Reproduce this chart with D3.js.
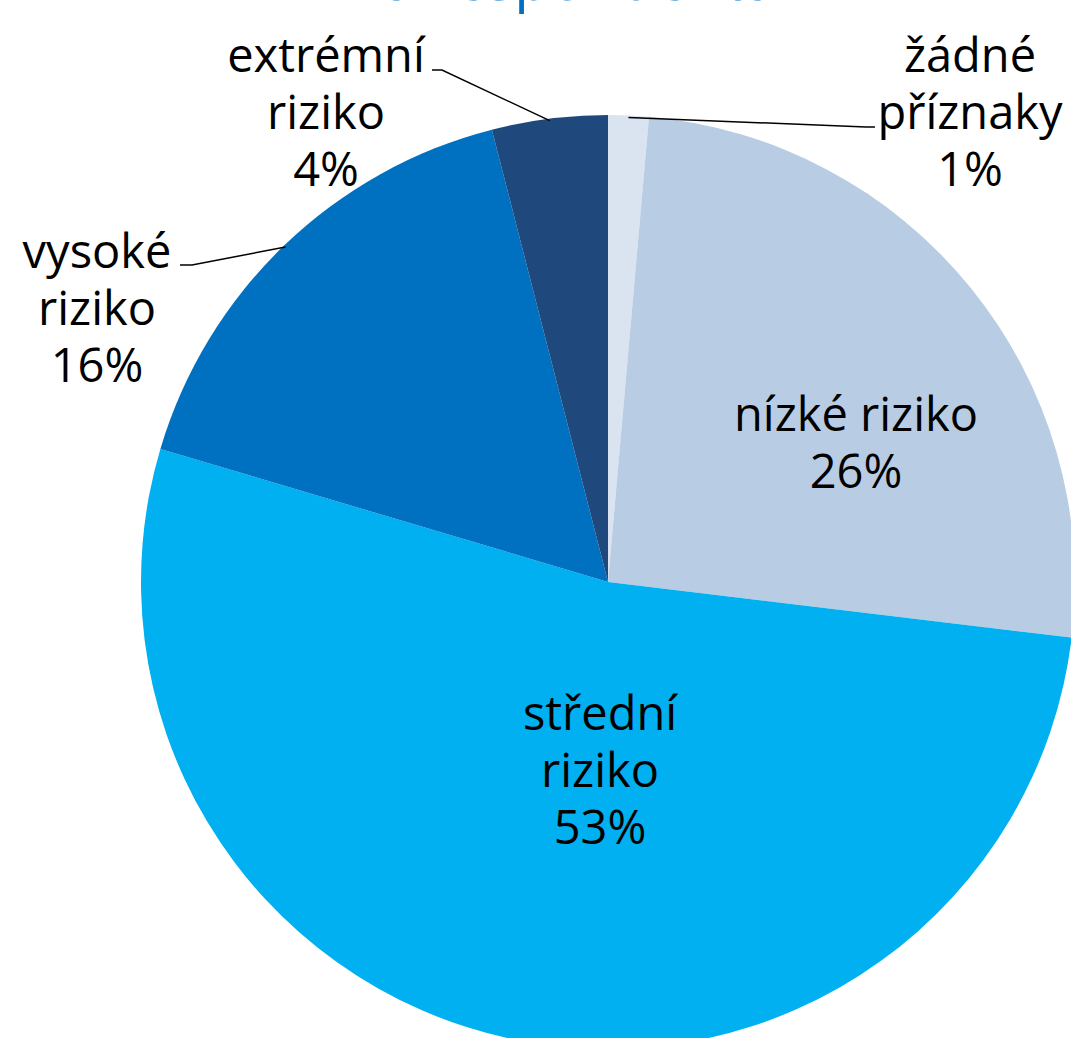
<!DOCTYPE html>
<html>
<head>
<meta charset="utf-8">
<script src="https://cdn.jsdelivr.net/npm/d3@7"></script>
<style>
  body { margin: 0; background: #fff; }
  svg { display: block; }
  text { font-family: "Open Sans", sans-serif; }
</style>
</head>
<body>
<div id="chart"></div>
<script>
// Data
const categories = ['žádné příznaky', 'nízké riziko', 'střední riziko', 'vysoké riziko', 'extrémní riziko']
const values = [1.4, 25.5, 52.7, 16.4, 4.0]
const labelLines = [
  ['žádné', 'příznaky', '1%'],
  ['nízké riziko', '26%'],
  ['střední', 'riziko', '53%'],
  ['vysoké', 'riziko', '16%'],
  ['extrémní', 'riziko', '4%']
]
const colors = ['#dae3f0', '#b8cce4', '#00b0f0', '#0070c0', '#1f497d']

// Dimensions
const dimensions = {
  width: 1071,
  height: 1038,
  cx: 608,
  cy: 582,
  radius: 467,
  lineHeight: 57
}

// label anchors (first line baseline centre) and leader line elbows
const labelPos = [
  { x: 970, y: 72, elbow: [[875, 127], [866, 127]] },
  { x: 856, y: 431 },
  { x: 600, y: 730 },
  { x: 97, y: 268, elbow: [[180, 265], [192, 265]] },
  { x: 326, y: 72, elbow: [[432, 70], [442, 70]] }
]

const svg = d3.select('#chart')
  .append('svg')
  .attr('width', dimensions.width)
  .attr('height', dimensions.height)

// title, mostly cut off at the top edge
svg.append('text')
  .attr('x', 580)
  .attr('y', 0)
  .attr('text-anchor', 'middle')
  .attr('fill', '#0070c0')
  .style('font-size', '58px')
  .text('a respondenta')

const ctr = svg.append('g')
  .attr('transform', `translate(${dimensions.cx}, ${dimensions.cy})`)

const pie = d3.pie().sort(null).value(d => d)
const arcs = pie(values)
const arc = d3.arc().innerRadius(0).outerRadius(dimensions.radius)

ctr.selectAll('path')
  .data(arcs)
  .join('path')
  .attr('d', arc)
  .attr('fill', (d, i) => colors[i])

// leader lines: from outer edge at slice mid angle to the label elbow
const pointOnArc = (a, r) => [r * Math.sin(a), -r * Math.cos(a)]
arcs.forEach((d, i) => {
  const pos = labelPos[i]
  if (!pos.elbow) return
  const mid = (d.startAngle + d.endAngle) / 2
  const p0 = pointOnArc(mid, dimensions.radius - 2)
  const pts = [
    pos.elbow[0].map((v, k) => v - (k ? dimensions.cy : dimensions.cx)),
    pos.elbow[1].map((v, k) => v - (k ? dimensions.cy : dimensions.cx)),
    p0
  ]
  ctr.append('path')
    .attr('d', d3.line()(pts))
    .attr('fill', 'none')
    .attr('stroke', '#000')
    .attr('stroke-width', 1.5)
})

// labels
labelLines.forEach((lines, i) => {
  const pos = labelPos[i]
  const t = svg.append('text')
    .attr('text-anchor', 'middle')
    .attr('fill', '#000')
    .style('font-size', '47px')
  lines.forEach((line, j) => {
    t.append('tspan')
      .attr('x', pos.x)
      .attr('y', pos.y + j * dimensions.lineHeight)
      .text(line)
  })
})
</script>
</body>
</html>
